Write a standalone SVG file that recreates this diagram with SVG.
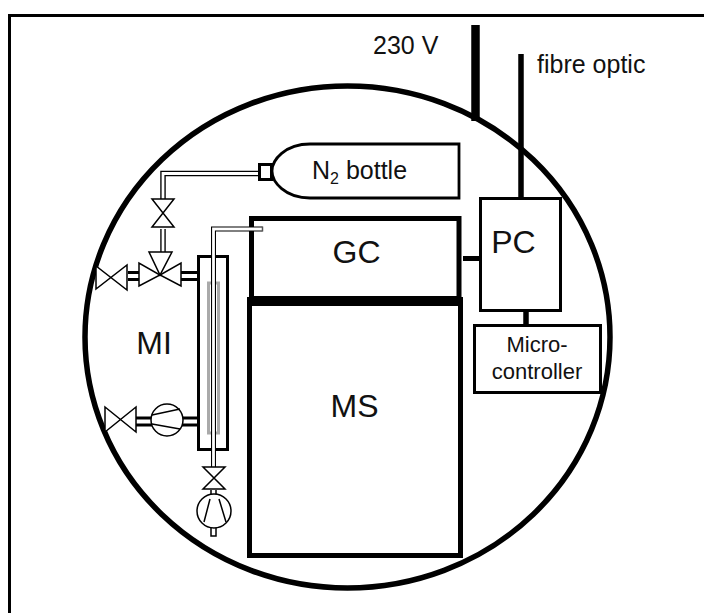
<svg xmlns="http://www.w3.org/2000/svg" width="704" height="613" viewBox="0 0 704 613">
<style>
text{font-family:"Liberation Sans",Arial,sans-serif;fill:#111}
.b{fill:#fff;stroke:#000}
.v{fill:#fff;stroke:#000;stroke-width:1.5}
.p{fill:none;stroke:#000;stroke-width:5.500}
.pi{fill:none;stroke:#fff;stroke-width:2.800}
.h{fill:none;stroke:#000;stroke-width:10}
.hi{fill:none;stroke:#fff;stroke-width:4}
.t{fill:none;stroke:#000;stroke-width:1.5}
.big{font-size:32px;text-anchor:middle}
.mid{font-size:25px}
.sm{font-size:22px;text-anchor:middle}
</style>
<rect width="704" height="613" fill="#fff"/>
<path id="frame" d="M9.500 613V15.400H704" fill="none" stroke="#000" stroke-width="3"/>
<g id="connectors">
<path d="M475.500 25V121" fill="none" stroke="#000" stroke-width="8.500"/>
<path d="M521 54V198" fill="none" stroke="#000" stroke-width="5.500"/>
<path d="M463 258.500H480" fill="none" stroke="#000" stroke-width="5"/>
<path d="M526 311V325" fill="none" stroke="#000" stroke-width="5.500"/>
</g>
<ellipse id="enclosure" cx="347.500" cy="337" rx="262.500" ry="251" fill="none" stroke="#000" stroke-width="5.500"/>
<g id="GC"><rect class="b" x="251.500" y="218.500" width="207.500" height="80" stroke-width="5"/><text class="big" x="356.500" y="263">GC</text></g>
<g id="MS"><rect class="b" x="249.500" y="300" width="211" height="255.500" stroke-width="5"/><path d="M247 301.500H463" stroke="#000" stroke-width="9"/><text class="big" x="354.500" y="417">MS</text></g>
<g id="PC"><rect class="b" x="480.500" y="198.500" width="80" height="112" stroke-width="3"/><text class="big" x="513.500" y="253">PC</text></g>
<g id="Microcontroller"><rect class="b" x="474.500" y="325.500" width="126" height="67" stroke-width="3"/><text class="sm" x="537" y="352">Micro-</text><text class="sm" x="537" y="379">controller</text></g>
<g id="bottle"><path class="b" stroke-width="2.800" d="M310 144C285 144 272 160 272 171C272 182 285 198 310 198H459V144Z"/><rect class="b" x="259.500" y="164.500" width="12" height="15" stroke-width="3"/><text class="mid" x="312" y="179">N<tspan font-size="16" dy="5">2</tspan><tspan dy="-5"> bottle</tspan></text></g>
<g id="MI"><rect class="b" x="198.500" y="256.500" width="29" height="193" stroke-width="3"/><text class="big" x="154" y="354">MI</text>
<rect x="208.500" y="283" width="10" height="150" fill="none" stroke="#aaa" stroke-width="3"/></g>
<g id="piping">
<path class="p" d="M163 199V173.500H258"/><path class="pi" d="M163 199V173.500H258"/>
<path class="p" d="M163 229V253"/><path class="pi" d="M163 229V253"/>
<path class="h" d="M128 276H139M181 276H197"/><path class="hi" d="M128 276H139M181 276H197"/>
<path class="h" d="M136 421.500H152M182 421.500H197"/><path class="hi" d="M136 421.500H152M182 421.500H197"/>
<path d="M213.500 467V229H262.500" fill="none" stroke="#000" stroke-width="5"/>
<path class="pi" d="M213.500 467V229H262"/>
<path d="M262.500 226.500V231.500" fill="none" stroke="#555" stroke-width="1.500"/>
<path class="t" d="M211 490V497M216 490V497" stroke-width="1.500"/>
<rect class="v" x="211" y="527" width="5" height="9"/>
</g>
<g id="valves">
<polygon class="v" points="152,199 174,199 152,227 174,227"/>
<polygon class="v" points="149,252 172,252 160,275"/>
<polygon class="v" points="139,263 139,286 160,275"/>
<polygon class="v" points="181,263 181,286 160,275"/>
<polygon class="v" points="96,266 96,289 127,265 127,290"/>
<polygon class="v" points="105,407 105,432 136,407 136,432"/>
<polygon class="v" points="203,467 225,467 203,489 225,489"/>
<circle class="v" cx="167" cy="420" r="16"/><path class="t" d="M152 415L180 409M152 424L180 429"/>
<circle class="v" cx="214" cy="511" r="17"/><path class="t" d="M204 522L210 499M226 522L219 499"/>
</g>
<text id="l230" class="mid" x="373" y="54">230 V</text>
<text id="lfibre" class="mid" x="537" y="73">fibre optic</text>
</svg>
